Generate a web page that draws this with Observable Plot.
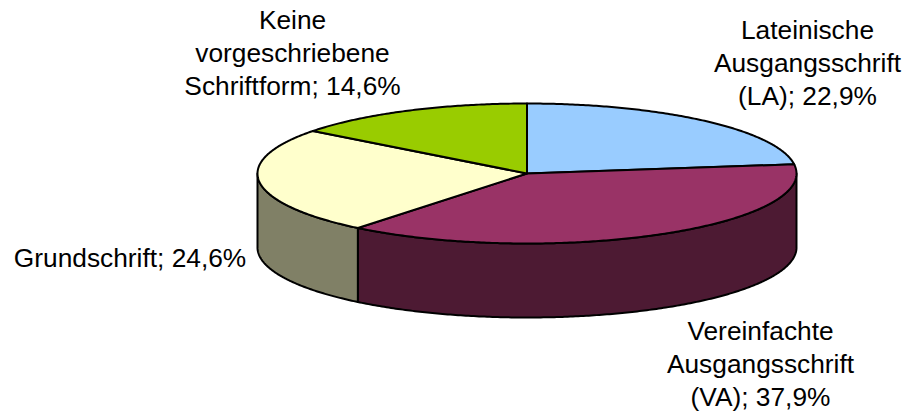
<!DOCTYPE html>
<html><head><meta charset="utf-8">
<script src="https://cdn.jsdelivr.net/npm/d3@7"></script>
<script src="https://cdn.jsdelivr.net/npm/@observablehq/plot@0.6"></script>
<style>html,body{margin:0;padding:0;background:#fff}svg{display:block}</style>
</head><body><div id="chart"></div>
<script>
// Data, clockwise from 12 o'clock
const names = ["LA", "VA", "Grundschrift", "Keine"];
const values = [22.9, 37.9, 24.6, 14.6];
const topColors = ["#99CCFF", "#993366", "#FFFFCC", "#99CC00"];
const sideColors = ["#4D6680", "#4D1A33", "#808066", "#4D6600"];
const labelLines = [
  ["Lateinische", "Ausgangsschrift", "(LA); 22,9%"],
  ["Vereinfachte", "Ausgangsschrift", "(VA); 37,9%"],
  ["Grundschrift; 24,6%"],
  ["Keine", "vorgeschriebene", "Schriftform; 14,6%"]
];
const labelX = [807, 760, 129.5, 292];
const labelY = [61, 362, 256, 51];

// Pie space: unit-circle x, unit-circle y plus extrusion depth
const depth = 74 / 70;
const total = d3.sum(values);
const cum = d3.cumsum(values);
const slices = names.map((name, i) => ({
  name, i,
  a0: ((cum[i] - values[i]) / total) * 2 * Math.PI,
  a1: (cum[i] / total) * 2 * Math.PI
}));
const arcPts = (a0, a1) => {
  const n = Math.max(2, Math.ceil((a1 - a0) / 0.01));
  return d3.range(n + 1).map(k => a0 + (a1 - a0) * k / n);
};
const topPts = [], sidePts = [];
for (const s of slices) {
  const id = s.name;
  topPts.push({id, fill: topColors[s.i], x: 0, y: 0});
  for (const a of arcPts(s.a0, s.a1)) topPts.push({id, fill: topColors[s.i], x: Math.sin(a), y: Math.cos(a)});
  topPts.push({id, fill: topColors[s.i], x: 0, y: 0});
  // visible front part of the rim: sin/cos with cos < 0
  const r0 = Math.max(s.a0, Math.PI / 2), r1 = Math.min(s.a1, 3 * Math.PI / 2);
  if (r1 > r0) {
    const arc = arcPts(r0, r1);
    for (const a of arc) sidePts.push({id, fill: sideColors[s.i], x: Math.sin(a), y: Math.cos(a)});
    for (const a of arc.slice().reverse()) sidePts.push({id, fill: sideColors[s.i], x: Math.sin(a), y: Math.cos(a) - depth});
    sidePts.push({id, fill: sideColors[s.i], x: Math.sin(r0), y: Math.cos(r0)});
  }
}
const textRows = labelLines.map((lines, i) => ({text: lines.join("\n"), x: labelX[i], y: labelY[i]}));

const lineStyle = {x: "x", y: "y", z: "id", fill: "fill", stroke: "#000", strokeWidth: 2, strokeLinejoin: "round", curve: "linear"};
const chart = Plot.plot({
  width: 906, height: 414,
  margin: 0,
  style: {background: "#fff", overflow: "visible"},
  x: {type: "linear", domain: [-1, 1], range: [257, 796], axis: null},
  y: {type: "linear", domain: [-1, 1], range: [243, 103], axis: null},
  marks: [
    Plot.line(sidePts, lineStyle),
    Plot.line(topPts, lineStyle),
    Plot.text(textRows, {
      text: "text",
      x: d => (d.x - 526.5) / 269.5,
      y: d => (173 - d.y) / 70,
      lineHeight: 1.25,
      fontSize: 26.3,
      fontFamily: "Liberation Sans, Arial, sans-serif",
      fill: "#000",
      textAnchor: "middle"
    })
  ]
});
document.getElementById("chart").append(chart);
</script></body></html>
